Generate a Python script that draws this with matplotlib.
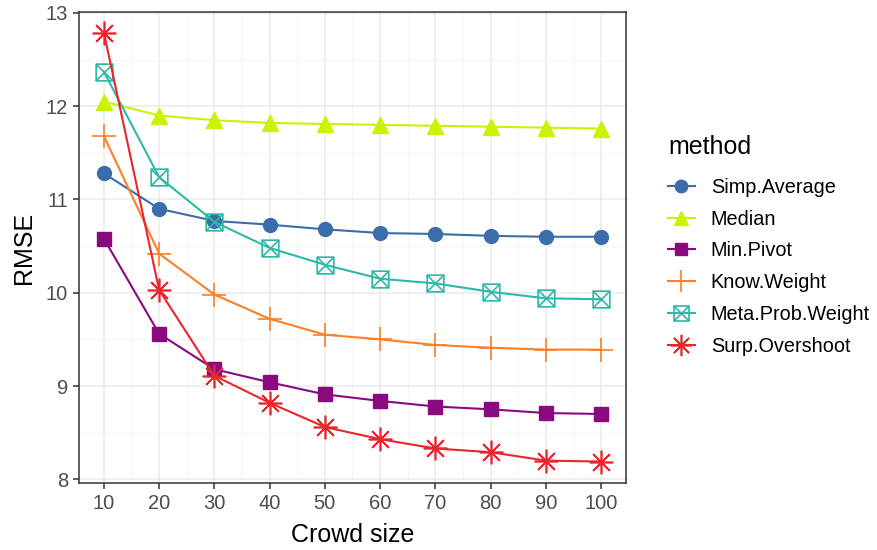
import numpy as np
import matplotlib
matplotlib.use('Agg')
import matplotlib.pyplot as plt
from matplotlib.path import Path

# ---- data: RMSE by crowd size for each aggregation method ----
crowd_size = [10, 20, 30, 40, 50, 60, 70, 80, 90, 100]

methods = ['Simp.Average', 'Median', 'Min.Pivot', 'Know.Weight',
           'Meta.Prob.Weight', 'Surp.Overshoot']

simp_average = [11.28, 10.90, 10.77, 10.73, 10.68, 10.64, 10.63, 10.61, 10.60, 10.60]
median = [12.05, 11.90, 11.85, 11.82, 11.81, 11.80, 11.79, 11.78, 11.77, 11.76]
min_pivot = [10.58, 9.56, 9.18, 9.04, 8.91, 8.84, 8.78, 8.75, 8.71, 8.70]
know_weight = [11.68, 10.42, 9.98, 9.72, 9.55, 9.50, 9.44, 9.41, 9.39, 9.39]
meta_prob_weight = [12.37, 11.24, 10.76, 10.48, 10.30, 10.15, 10.10, 10.01, 9.94, 9.93]
surp_overshoot = [12.79, 10.03, 9.11, 8.82, 8.56, 8.43, 8.33, 8.29, 8.20, 8.19]

series = [simp_average, median, min_pivot, know_weight, meta_prob_weight, surp_overshoot]

# ---- styles ----
colors = ['#3C6DAB', '#CCF200', '#880A7E', '#FF7F24', '#2DB8A7', '#E8262C']

# square with an X through it (ggplot shape 7)
boxtimes = Path(
    [(-1, -1), (1, -1), (1, 1), (-1, 1), (-1, -1),
     (-1, -1), (1, 1), (-1, 1), (1, -1)],
    [Path.MOVETO, Path.LINETO, Path.LINETO, Path.LINETO, Path.CLOSEPOLY,
     Path.MOVETO, Path.LINETO, Path.MOVETO, Path.LINETO])

marker_kw = [
    dict(marker='o', markersize=10),
    dict(marker='^', markersize=11),
    dict(marker='s', markersize=9.5),
    dict(marker='+', markersize=17, markeredgewidth=1.2),
    dict(marker=boxtimes, markersize=12, markerfacecolor='none', markeredgewidth=1.2),
    dict(marker=(8, 2, 0), markersize=17, markeredgewidth=1.2),
]

plt.rcParams['font.family'] = ['Liberation Sans', 'DejaVu Sans']

W, H = 878, 550
fig = plt.figure(figsize=(W / 100, H / 100), dpi=100)
# panel: x 79..626 px, y 12..483 px
ax = fig.add_axes([79 / W, 1 - 483 / H, 547 / W, 471 / H])

for name, vals, col, mk in zip(methods, series, colors, marker_kw):
    ax.plot(crowd_size, vals, color=col, lw=1.5, label=name,
            markeredgecolor=col, **mk)

ax.set_xlim(5.5, 104.5)
ax.set_ylim(7.96, 13.01)
ax.set_xticks(crowd_size)
ax.set_xticks(np.arange(15, 100, 10), minor=True)
ax.set_yticks([8, 9, 10, 11, 12, 13])
ax.set_yticks([8.5, 9.5, 10.5, 11.5, 12.5], minor=True)

ax.grid(True, which='major', color='#EBEBEB', lw=1.1)
ax.grid(True, which='minor', color='#F2F2F2', lw=0.6)
ax.set_axisbelow(True)
for sp in ax.spines.values():
    sp.set_color('#333333')
    sp.set_linewidth(1.1)

ax.tick_params(which='major', direction='out', length=4, width=1.1,
               color='#333333', labelcolor='#4D4D4D', labelsize=14.5, pad=4)
ax.tick_params(which='minor', length=0)

ax.set_xlabel('Crowd size', fontsize=18, labelpad=7)
ax.set_ylabel('RMSE', fontsize=18, labelpad=7)

# legend title placed separately, entries below it
fig.text(668 / W, 1 - 147 / H, 'method', fontsize=18, va='center', ha='left')
ax.legend(loc='upper left', bbox_to_anchor=(668 / W, 1 - 178 / H),
          bbox_transform=fig.transFigure, frameon=False, fontsize=14.3,
          borderpad=0, borderaxespad=0, handlelength=1.35,
          labelspacing=0.64, handletextpad=0.8, markerscale=0.9)

fig.savefig('out.png', dpi=100)
